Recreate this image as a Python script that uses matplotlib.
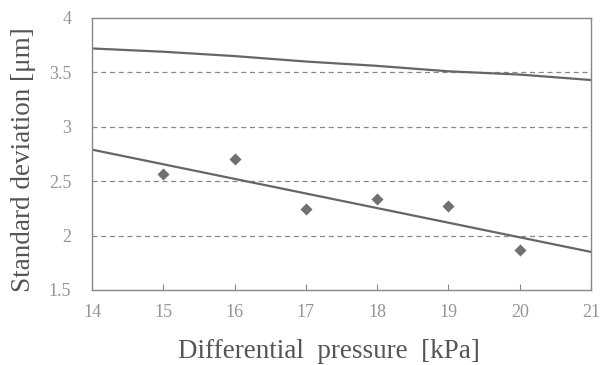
import matplotlib
matplotlib.use("Agg")
import matplotlib.pyplot as plt

# Data
pressure = [15, 16, 17, 18, 19, 20]
std_dev = [2.57, 2.70, 2.24, 2.34, 2.27, 1.87]

trend_x = [14, 21]
trend_y = [2.79, 1.85]

upper_x = [14, 15, 16, 17, 18, 19, 20, 21]
upper_y = [3.72, 3.69, 3.65, 3.60, 3.56, 3.51, 3.48, 3.43]

x_ticks = [14, 15, 16, 17, 18, 19, 20, 21]
y_ticks = [1.5, 2, 2.5, 3, 3.5, 4]
y_tick_labels = ["1.5", "2", "2.5", "3", "3.5", "4"]
grid_levels = [2, 2.5, 3, 3.5]

plt.rcParams['font.family'] = ['Liberation Serif', 'DejaVu Serif']

fig = plt.figure(figsize=(6.05, 3.65), dpi=100)
ax = fig.add_axes([92/605, 1 - 290/365, (591-92)/605, (290-18)/365])

for g in grid_levels:
    ax.axhline(g, color='#888888', lw=0.9, ls=(0, (4, 3)), zorder=1)

ax.plot(upper_x, upper_y, color='#666666', lw=1.6, zorder=2)
ax.plot(trend_x, trend_y, color='#666666', lw=1.6, zorder=2)
ax.scatter(pressure, std_dev, marker='D', s=38, color='#707070', zorder=3, linewidths=0)

ax.set_xlim(14, 21)
ax.set_ylim(1.5, 4)
ax.set_xticks(x_ticks)
ax.set_yticks(y_ticks)
ax.set_yticklabels(y_tick_labels)

for s in ax.spines.values():
    s.set_color('#888888')
    s.set_linewidth(1.0)

ax.tick_params(axis='x', direction='in', length=4, color='#888888', labelcolor='#949494',
               labelsize=13, pad=10)
ax.tick_params(axis='y', length=0, labelcolor='#949494', labelsize=13, pad=15)

ax.set_xlabel("Differential  pressure  [kPa]", fontsize=19.5, color='#555555')
ax.set_ylabel("Standard deviation [\u03bcm]", fontsize=19.5, color='#555555')
ax.xaxis.set_label_coords(0.475, -0.18)
ax.yaxis.set_label_coords(-0.112, 0.478)

fig.savefig("out.png", dpi=100)
